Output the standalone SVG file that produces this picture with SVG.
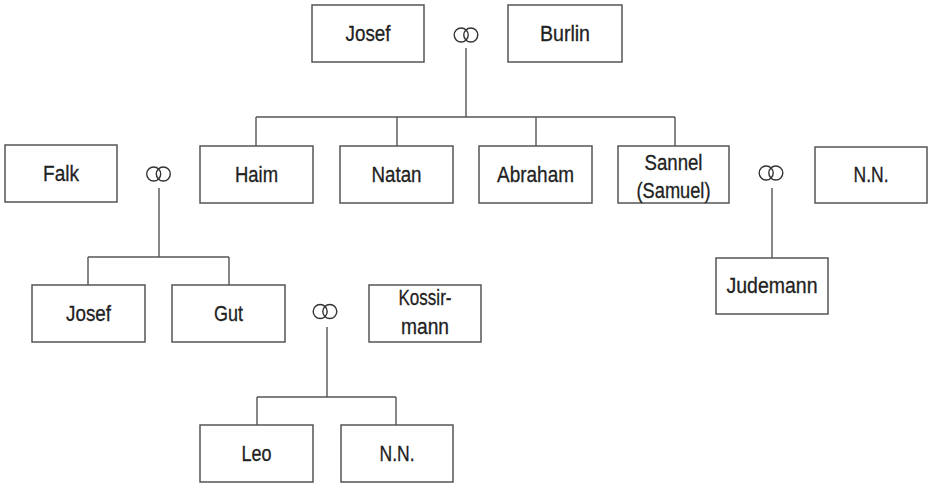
<svg xmlns="http://www.w3.org/2000/svg" width="928" height="484" viewBox="0 0 928 484">
<style>
.box{fill:#fff;stroke:#555;stroke-width:1.5}
.t{font-family:"Liberation Sans",Arial,sans-serif;font-size:22px;fill:#222;stroke:#222;stroke-width:0.3;text-anchor:middle}
.c{fill:none;stroke:#555;stroke-width:1.4}
.r{fill:none;stroke:#333;stroke-width:1.4}
</style>
<defs>
<g id="rings"><circle class="r" cx="-4.8" cy="0" r="7"/><circle class="r" cx="4.8" cy="0" r="7"/></g>
</defs>
<rect width="928" height="484" fill="#fff"/>
<g id="connectors">
<path class="c" d="M466 48V117M256 117H675M256 117V146M397 117V146M536 117V146M675 117V146"/>
<path class="c" d="M159 188V257M88 257H229M88 257V285M229 257V285"/>
<path class="c" d="M772 188V258"/>
<path class="c" d="M327 327V397M257 397H396M257 397V425M396 397V425"/>
</g>
<g id="marriages">
<use href="#rings" x="466" y="35"/>
<use href="#rings" x="158.5" y="174"/>
<use href="#rings" x="771" y="173"/>
<use href="#rings" x="325" y="311.5"/>
</g>
<g id="josef1"><rect class="box" x="312" y="5" width="112" height="57"/><text class="t" x="368" y="41" textLength="45" lengthAdjust="spacingAndGlyphs">Josef</text></g>
<g id="burlin"><rect class="box" x="508" y="5" width="114" height="57"/><text class="t" x="565" y="41" textLength="50" lengthAdjust="spacingAndGlyphs">Burlin</text></g>
<g id="falk"><rect class="box" x="5" y="145" width="112" height="57"/><text class="t" x="61" y="181" textLength="36" lengthAdjust="spacingAndGlyphs">Falk</text></g>
<g id="haim"><rect class="box" x="200" y="146" width="113" height="57"/><text class="t" x="256.5" y="182" textLength="43" lengthAdjust="spacingAndGlyphs">Haim</text></g>
<g id="natan"><rect class="box" x="340" y="146" width="113" height="57"/><text class="t" x="396.5" y="182" textLength="50" lengthAdjust="spacingAndGlyphs">Natan</text></g>
<g id="abraham"><rect class="box" x="479" y="146" width="113" height="57"/><text class="t" x="535.5" y="182" textLength="77" lengthAdjust="spacingAndGlyphs">Abraham</text></g>
<g id="sannel"><rect class="box" x="618" y="146" width="111" height="57"/><text class="t" x="673.5" y="170" textLength="58" lengthAdjust="spacingAndGlyphs">Sannel</text><text class="t" x="673.5" y="198" textLength="74" lengthAdjust="spacingAndGlyphs">(Samuel)</text></g>
<g id="nn1"><rect class="box" x="815" y="147" width="112" height="56"/><text class="t" x="871" y="182" textLength="35" lengthAdjust="spacingAndGlyphs">N.N.</text></g>
<g id="judemann"><rect class="box" x="716" y="258" width="112" height="56"/><text class="t" x="772" y="293" textLength="91" lengthAdjust="spacingAndGlyphs">Judemann</text></g>
<g id="josef2"><rect class="box" x="32" y="285" width="113" height="57"/><text class="t" x="88.5" y="321" textLength="45" lengthAdjust="spacingAndGlyphs">Josef</text></g>
<g id="gut"><rect class="box" x="172" y="285" width="113" height="57"/><text class="t" x="228.5" y="321" textLength="29" lengthAdjust="spacingAndGlyphs">Gut</text></g>
<g id="kossirmann"><rect class="box" x="369" y="285" width="112" height="57"/><text class="t" x="425" y="305" textLength="53" lengthAdjust="spacingAndGlyphs">Kossir-</text><text class="t" x="425" y="334" textLength="48" lengthAdjust="spacingAndGlyphs">mann</text></g>
<g id="leo"><rect class="box" x="200" y="425" width="113" height="57"/><text class="t" x="256.5" y="461" textLength="30" lengthAdjust="spacingAndGlyphs">Leo</text></g>
<g id="nn2"><rect class="box" x="341" y="425" width="112" height="57"/><text class="t" x="397" y="461" textLength="35" lengthAdjust="spacingAndGlyphs">N.N.</text></g>
</svg>
